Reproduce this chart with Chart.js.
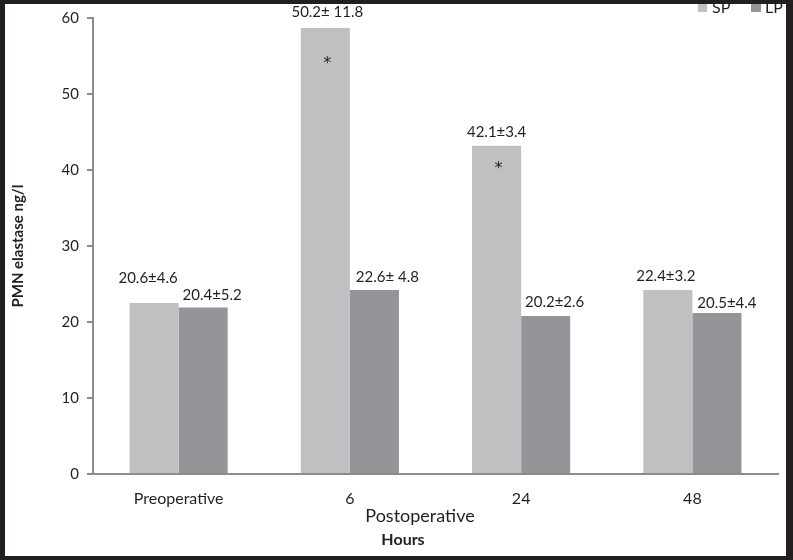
<!DOCTYPE html>
<html>
<head>
<meta charset="utf-8">
<script src="https://cdn.jsdelivr.net/npm/chart.js@4"></script>
<style>
  html, body { margin: 0; padding: 0; background: #fff; }
  #wrap { width: 793px; height: 560px; }
</style>
</head>
<body>
<div id="wrap"><canvas id="chartElastase" width="793" height="560"></canvas></div>
<script>
// categorias e valores
const hours = ['Preoperative', '6', '24', '48'];
const spValues = [22.5, 58.7, 43.2, 24.2];
const lpValues = [21.9, 24.2, 20.8, 21.2];
const spLabels = ['20.6±4.6', '50.2± 11.8', '42.1±3.4', '22.4±3.2'];
const lpLabels = ['20.4±5.2', '22.6± 4.8', '20.2±2.6', '20.5±4.4'];
// posicao dos asteriscos (em ng/l)
const starValues = [null, 54.6, 40.8, null];
const yTicks = [0, 10, 20, 30, 40, 50, 60];

const textColor = '#231f20';
const axisColor = '#8c8c8c';
const spColor = '#bfc0c2';
const lpColor = '#949598';

// deslocamento dos rotulos (px) em relacao ao topo da barra, como no original
const labelDx = [[-6, 2, 0, -2], [9, 13, 9, 10]];
const labelGap = [[20, 11, 9, 9], [8, 8, 9, 5]];

// rotulos, asteriscos, legenda, titulos do eixo x e moldura
const extras = {
  id: 'extras',
  afterDatasetsDraw(chart) {
    const c = chart.ctx;
    const yScale = chart.scales.y;
    c.save();
    c.fillStyle = textColor;
    c.textAlign = 'center';
    c.textBaseline = 'alphabetic';
    c.font = '15px Lato';
    const labelSets = [spLabels, lpLabels];
    labelSets.forEach((labels, di) => {
      chart.getDatasetMeta(di).data.forEach((bar, i) => {
        c.fillText(labels[i], bar.x + labelDx[di][i], bar.y - labelGap[di][i]);
      });
    });
    c.font = '16px "DejaVu Sans"';
    chart.getDatasetMeta(0).data.forEach((bar, i) => {
      if (starValues[i] !== null) {
        c.fillText('*', bar.x + 2, yScale.getPixelForValue(starValues[i]) + 9);
      }
    });

    // legenda
    c.font = '16px Lato';
    c.textAlign = 'left';
    c.textBaseline = 'middle';
    c.fillStyle = spColor;
    c.fillRect(698, 2, 9, 10);
    c.fillStyle = lpColor;
    c.fillRect(751, 2, 10, 10);
    c.fillStyle = textColor;
    c.fillText('SP', 712, 8);
    c.fillText('LP', 765, 8);

    // titulos do eixo x
    c.textAlign = 'center';
    c.font = '18px Lato';
    c.fillText('Postoperative', 420, 516);
    c.font = 'bold 16px Lato';
    c.fillText('Hours', 403, 540);

    // moldura
    c.fillStyle = '#231f20';
    c.fillRect(0, 0, chart.width, 4);
    c.fillRect(0, chart.height - 4, chart.width, 4);
    c.fillRect(0, 0, 5, chart.height);
    c.fillRect(chart.width - 7, 0, 7, chart.height);
    c.restore();
  }
};

const ctx = document.getElementById('chartElastase');
const chartElastase = new Chart(ctx, {
  type: 'bar',
  data: {
    labels: hours,
    datasets: [{
      label: 'SP',
      data: spValues,
      backgroundColor: spColor,
      borderWidth: 0,
    },
    {
      label: 'LP',
      data: lpValues,
      backgroundColor: lpColor,
      borderWidth: 0,
    }]
  },
  options: {
    responsive: false,
    animation: false,
    layout: {
      padding: { left: 5, top: 18, right: 15, bottom: 0 }
    },
    datasets: {
      bar: {
        barPercentage: 1,
        categoryPercentage: 0.573,
      }
    },
    scales: {
      x: {
        afterFit: (s) => { s.height = 86; },
        grid: {
          display: true,
          drawOnChartArea: false,
          drawTicks: false,
        },
        border: { color: axisColor, width: 2 },
        ticks: {
          color: textColor,
          font: { family: 'Lato', size: 16 },
          padding: 15,
        }
      },
      y: {
        min: 0,
        max: 60,
        afterFit: (s) => { s.width = 88; },
        afterBuildTicks: (s) => { s.ticks = yTicks.map(v => ({ value: v })); },
        grid: {
          drawOnChartArea: false,
          drawTicks: true,
          tickLength: 6,
          color: axisColor,
          lineWidth: 2,
        },
        border: { color: axisColor, width: 2 },
        ticks: {
          color: textColor,
          font: { family: 'Lato', size: 15 },
          padding: 8,
        },
        title: {
          display: true,
          text: 'PMN elastase ng/l',
          color: textColor,
          font: { family: 'Lato', size: 15, weight: 'bold' },
          padding: { top: 4, bottom: 0 },
        }
      }
    },
    plugins: {
      legend: { display: false },
      tooltip: { enabled: false },
    }
  },
  plugins: [extras]
});
</script>
</body>
</html>
